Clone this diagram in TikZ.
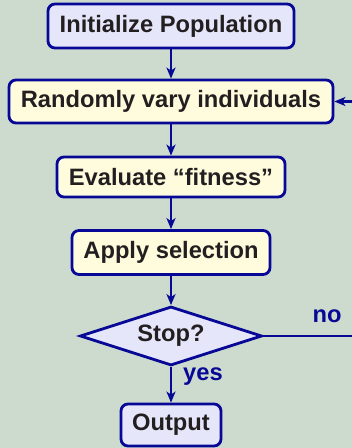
\documentclass[tikz,border=0pt]{standalone}
\usepackage{fontspec}
\setmainfont{Liberation Sans}
\usetikzlibrary{shapes.geometric,arrows.meta}
\definecolor{bg}{RGB}{205,219,206}
\definecolor{fr}{RGB}{8,8,150}
\definecolor{lav}{RGB}{230,230,250}
\definecolor{cream}{RGB}{255,252,222}
\definecolor{txt}{RGB}{35,31,32}
\tikzset{
  box/.style={draw=fr, line width=2.8pt, rounded corners=7pt, font=\fontsize{23.7}{26}\selectfont\bfseries, text=txt, inner sep=0pt, align=center},
  lavbox/.style={box, fill=lav},
  creambox/.style={box, fill=cream},
  decision/.style={diamond, draw=fr, line width=2.8pt, fill=lav, font=\fontsize{23.7}{26}\selectfont\bfseries, text=txt, inner sep=0pt, aspect=3.05},
  conn/.style={draw=fr, line width=2.5pt, -{Stealth[length=11pt,width=9pt,inset=3pt]}},
  lbl/.style={text=fr, font=\fontsize{23.7}{26}\selectfont\bfseries, inner sep=0pt}
}
\begin{document}
\begin{tikzpicture}[x=1pt,y=1pt]
\clip (0,0) rectangle (352,448);
\fill[bg] (0,0) rectangle (352,448);
\node[lavbox, minimum width=246pt, minimum height=44pt] (init) at (171,422) {Initialize Population};
\node[creambox, minimum width=324pt, minimum height=43pt] (vary) at (171,346.5) {Randomly vary individuals};
\node[creambox, minimum width=228pt, minimum height=40pt] (eval) at (171,271) {Evaluate “fitness”};
\node[creambox, minimum width=198pt, minimum height=44pt] (sel) at (171,195.5) {Apply selection};
\node[decision, minimum width=182pt, minimum height=59pt] (stop) at (171,112) {Stop?};
\node[lavbox, minimum width=100pt, minimum height=42pt] (out) at (171,23) {Output};
\coordinate (c1) at (365,112);
\coordinate (c2) at (365,346.5);
\draw[conn] (init) -- (vary);
\draw[conn] (vary) -- (eval);
\draw[conn] (eval) -- (sel);
\draw[conn] (sel) -- (stop);
\draw[conn] (stop) -- (out);
\draw[conn] (stop.east) -- (c1) -- (c2) -- (vary.east);
\node[lbl] (yes) at (203,71) {yes};
\node[lbl] (no) at (327,132) {no};
\end{tikzpicture}
\end{document}
